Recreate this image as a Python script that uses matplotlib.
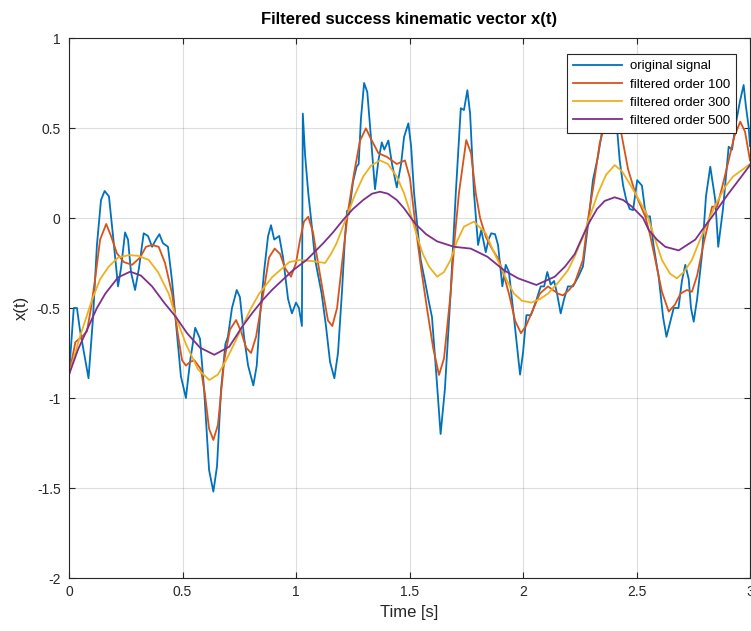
import matplotlib
matplotlib.use("Agg")
import matplotlib.pyplot as plt

# original signal
t_orig = [0.000, 0.021, 0.035, 0.048, 0.086, 0.106, 0.123, 0.141, 0.157, 0.176,
          0.194, 0.216, 0.229, 0.247, 0.260, 0.273, 0.291, 0.308, 0.329, 0.348,
          0.366, 0.383, 0.398, 0.414, 0.436, 0.454, 0.476, 0.493, 0.515, 0.533,
          0.556, 0.577, 0.595, 0.617, 0.636, 0.652, 0.670, 0.689, 0.700, 0.718,
          0.739, 0.753, 0.771, 0.789, 0.812, 0.827, 0.841, 0.860, 0.877, 0.890,
          0.904, 0.926, 0.943, 0.965, 0.982, 1.000, 1.013, 1.026, 1.030, 1.040,
          1.054, 1.070, 1.084, 1.113, 1.132, 1.150, 1.169, 1.185, 1.203, 1.216,
          1.225, 1.233, 1.251, 1.267, 1.276, 1.286, 1.300, 1.314, 1.330, 1.348,
          1.363, 1.378, 1.389, 1.407, 1.423, 1.444, 1.463, 1.476, 1.495, 1.507,
          1.520, 1.549, 1.568, 1.586, 1.599, 1.617, 1.637, 1.656, 1.681, 1.704,
          1.726, 1.740, 1.755, 1.767, 1.784, 1.802, 1.816, 1.836, 1.848, 1.860,
          1.877, 1.890, 1.909, 1.924, 1.938, 1.960, 1.987, 2.000, 2.015, 2.035,
          2.059, 2.078, 2.093, 2.107, 2.122, 2.137, 2.150, 2.166, 2.181, 2.198,
          2.220, 2.242, 2.264, 2.289, 2.308, 2.330, 2.357, 2.383, 2.401, 2.414,
          2.426, 2.441, 2.455, 2.470, 2.485, 2.503, 2.524, 2.537, 2.546, 2.559,
          2.576, 2.598, 2.617, 2.632, 2.648, 2.664, 2.685, 2.700, 2.715, 2.730,
          2.740, 2.752, 2.767, 2.789, 2.806, 2.825, 2.847, 2.860, 2.881, 2.906,
          2.921, 2.935, 2.956, 2.972, 2.982, 2.994, 3.000]
x_orig = [-0.87, -0.50, -0.50, -0.62, -0.89, -0.55, -0.15, 0.10, 0.15, 0.12,
          -0.10, -0.38, -0.28, -0.08, -0.12, -0.30, -0.40, -0.28, -0.085, -0.10,
          -0.16, -0.12, -0.09, -0.14, -0.16, -0.35, -0.65, -0.88, -1.00, -0.80,
          -0.61, -0.67, -0.95, -1.40, -1.52, -1.38, -0.95, -0.70, -0.66, -0.50,
          -0.40, -0.44, -0.66, -0.82, -0.93, -0.82, -0.55, -0.29, -0.10, -0.04,
          -0.12, -0.10, -0.22, -0.45, -0.53, -0.47, -0.50, -0.60, 0.58, 0.35,
          0.14, -0.05, -0.23, -0.42, -0.60, -0.80, -0.89, -0.75, -0.40, -0.10,
          0.04, 0.02, 0.20, 0.285, 0.30, 0.55, 0.75, 0.70, 0.45, 0.16,
          0.32, 0.42, 0.38, 0.43, 0.30, 0.17, 0.30, 0.45, 0.526, 0.40,
          0.14, -0.23, -0.35, -0.47, -0.55, -0.85, -1.20, -0.95, -0.42, 0.14,
          0.61, 0.60, 0.71, 0.58, 0.14, -0.15, -0.067, -0.19, -0.12, -0.085,
          -0.09, -0.15, -0.38, -0.26, -0.30, -0.55, -0.87, -0.75, -0.54, -0.54,
          -0.456, -0.38, -0.38, -0.30, -0.37, -0.35, -0.42, -0.53, -0.45, -0.38,
          -0.38, -0.33, -0.27, -0.01, 0.21, 0.34, 0.55, 0.72, 0.70, 0.50,
          0.32, 0.18, 0.10, 0.05, 0.044, 0.21, 0.18, 0.05, 0.007, 0.01,
          -0.16, -0.33, -0.55, -0.66, -0.58, -0.50, -0.50, -0.35, -0.26, -0.34,
          -0.50, -0.576, -0.45, -0.196, 0.12, 0.285, 0.10, -0.16, 0.05, 0.396,
          0.38, 0.507, 0.65, 0.739, 0.62, 0.507, 0.40]

# filtered order 100
t_f100 = [0.000, 0.028, 0.057, 0.079, 0.097, 0.116, 0.137, 0.164, 0.185, 0.211,
          0.242, 0.278, 0.313, 0.339, 0.366, 0.395, 0.423, 0.454, 0.480, 0.498,
          0.515, 0.533, 0.552, 0.581, 0.599, 0.617, 0.636, 0.656, 0.684, 0.709,
          0.736, 0.758, 0.780, 0.802, 0.824, 0.856, 0.881, 0.906, 0.930, 0.952,
          0.978, 1.000, 1.018, 1.035, 1.054, 1.075, 1.097, 1.120, 1.141, 1.160,
          1.181, 1.203, 1.230, 1.256, 1.282, 1.308, 1.330, 1.363, 1.400, 1.444,
          1.480, 1.502, 1.527, 1.551, 1.578, 1.604, 1.630, 1.652, 1.681, 1.700,
          1.718, 1.750, 1.771, 1.792, 1.811, 1.836, 1.863, 1.894, 1.916, 1.938,
          1.965, 1.991, 2.013, 2.037, 2.074, 2.110, 2.154, 2.176, 2.203, 2.228,
          2.264, 2.286, 2.313, 2.338, 2.361, 2.388, 2.410, 2.433, 2.463, 2.495,
          2.539, 2.559, 2.583, 2.612, 2.642, 2.670, 2.694, 2.722, 2.744, 2.767,
          2.796, 2.833, 2.855, 2.877, 2.906, 2.930, 2.957, 2.978, 3.000]
x_f100 = [-0.87, -0.69, -0.66, -0.63, -0.50, -0.33, -0.12, -0.033, -0.10, -0.196,
          -0.245, -0.26, -0.22, -0.16, -0.15, -0.16, -0.25, -0.42, -0.65, -0.79,
          -0.82, -0.80, -0.79, -0.84, -0.98, -1.17, -1.233, -1.15, -0.79, -0.62,
          -0.567, -0.63, -0.72, -0.75, -0.66, -0.42, -0.22, -0.17, -0.20, -0.28,
          -0.326, -0.25, -0.12, -0.02, 0.007, -0.08, -0.25, -0.42, -0.57, -0.60,
          -0.50, -0.25, 0.044, 0.25, 0.43, 0.498, 0.44, 0.36, 0.34, 0.30,
          0.32, 0.22, -0.048, -0.28, -0.51, -0.72, -0.872, -0.78, -0.42, -0.10,
          0.14, 0.433, 0.36, 0.137, 0.0, -0.104, -0.17, -0.233, -0.32, -0.42,
          -0.57, -0.64, -0.60, -0.53, -0.42, -0.38, -0.42, -0.43, -0.40, -0.36,
          -0.233, -0.01, 0.20, 0.415, 0.52, 0.55, 0.52, 0.47, 0.27, 0.137,
          0.007, -0.09, -0.233, -0.41, -0.52, -0.48, -0.42, -0.40, -0.41, -0.32,
          -0.14, 0.063, 0.063, 0.17, 0.32, 0.45, 0.535, 0.48, 0.32]

# filtered order 300
t_f300 = [0.000, 0.048, 0.101, 0.137, 0.175, 0.216, 0.263, 0.304, 0.351, 0.392,
          0.439, 0.471, 0.515, 0.568, 0.618, 0.656, 0.692, 0.727, 0.765, 0.802,
          0.838, 0.897, 0.930, 0.970, 1.018, 1.076, 1.128, 1.154, 1.179, 1.223,
          1.260, 1.296, 1.330, 1.370, 1.405, 1.444, 1.476, 1.498, 1.534, 1.559,
          1.586, 1.622, 1.652, 1.681, 1.709, 1.740, 1.784, 1.836, 1.868, 1.902,
          1.930, 1.960, 1.996, 2.037, 2.075, 2.110, 2.154, 2.198, 2.229, 2.264,
          2.295, 2.330, 2.366, 2.404, 2.436, 2.470, 2.502, 2.529, 2.546, 2.577,
          2.612, 2.648, 2.678, 2.709, 2.744, 2.780, 2.818, 2.855, 2.891, 2.925,
          2.965, 3.000]
x_f300 = [-0.87, -0.66, -0.456, -0.34, -0.27, -0.22, -0.206, -0.21, -0.233, -0.30,
          -0.42, -0.55, -0.70, -0.84, -0.90, -0.87, -0.79, -0.70, -0.60, -0.50,
          -0.42, -0.326, -0.29, -0.245, -0.233, -0.24, -0.25, -0.20, -0.14, 0.007,
          0.13, 0.23, 0.29, 0.32, 0.30, 0.23, 0.137, 0.05, -0.104, -0.20,
          -0.27, -0.326, -0.30, -0.233, -0.13, -0.048, -0.02, -0.085, -0.18, -0.27,
          -0.35, -0.42, -0.46, -0.47, -0.45, -0.42, -0.36, -0.29, -0.21, -0.104,
          0.01, 0.137, 0.24, 0.294, 0.26, 0.19, 0.12, 0.06, 0.02, -0.10,
          -0.233, -0.31, -0.335, -0.30, -0.233, -0.12, -0.01, 0.09, 0.174, 0.23,
          0.267, 0.30]

# filtered order 500
t_f500 = [0.000, 0.040, 0.087, 0.123, 0.160, 0.216, 0.270, 0.317, 0.366, 0.419,
          0.471, 0.520, 0.577, 0.640, 0.706, 0.765, 0.806, 0.853, 0.894, 0.941,
          0.987, 1.047, 1.120, 1.163, 1.208, 1.251, 1.296, 1.335, 1.370, 1.405,
          1.444, 1.476, 1.524, 1.573, 1.622, 1.696, 1.770, 1.843, 1.916, 1.978,
          2.059, 2.140, 2.185, 2.228, 2.260, 2.294, 2.326, 2.360, 2.404, 2.441,
          2.480, 2.529, 2.554, 2.590, 2.627, 2.686, 2.759, 2.793, 2.833, 2.868,
          2.906, 2.956, 3.000]
x_f500 = [-0.87, -0.73, -0.60, -0.50, -0.42, -0.33, -0.298, -0.32, -0.38, -0.47,
          -0.55, -0.64, -0.72, -0.76, -0.715, -0.60, -0.53, -0.456, -0.40, -0.344,
          -0.29, -0.233, -0.14, -0.08, -0.01, 0.05, 0.10, 0.135, 0.146, 0.135,
          0.10, 0.054, -0.03, -0.09, -0.13, -0.16, -0.17, -0.215, -0.29, -0.335,
          -0.372, -0.326, -0.27, -0.20, -0.11, -0.02, 0.05, 0.095, 0.115, 0.10,
          0.063, 0.0, -0.067, -0.12, -0.16, -0.18, -0.12, -0.06, 0.007, 0.07,
          0.137, 0.22, 0.294]

labels = ['original signal', 'filtered order 100', 'filtered order 300', 'filtered order 500']
colors = ['#0072BD', '#D95319', '#EDB120', '#7E2F8E']

x_ticks = [0, 0.5, 1, 1.5, 2, 2.5, 3]
x_ticklabels = ['0', '0.5', '1', '1.5', '2', '2.5', '3']
y_ticks = [-2, -1.5, -1, -0.5, 0, 0.5, 1]
y_ticklabels = ['-2', '-1.5', '-1', '-0.5', '0', '0.5', '1']

plt.rcParams['font.family'] = ['Liberation Sans', 'DejaVu Sans']
plt.rcParams['axes.unicode_minus'] = False

fig = plt.figure(figsize=(7.51, 6.31), dpi=100)
ax = fig.add_axes([69 / 751, 53 / 631, 681 / 751, 540 / 631])

series = [(t_orig, x_orig), (t_f100, x_f100), (t_f300, x_f300), (t_f500, x_f500)]
for (t, x), lab, c in zip(series, labels, colors):
    ax.plot(t, x, color=c, lw=1.3, label=lab, solid_joinstyle='round')

ax.set_xlim(0, 3)
ax.set_ylim(-2, 1)
ax.set_xticks(x_ticks)
ax.set_xticklabels(x_ticklabels)
ax.set_yticks(y_ticks)
ax.set_yticklabels(y_ticklabels)

ax.grid(True, color='#262626', alpha=0.15, lw=0.8)
ax.set_axisbelow(True)
ax.tick_params(direction='in', top=True, right=True, length=4, width=0.8,
               colors='#262626', labelsize=10)
ax.tick_params(axis='y', pad=6)
ax.tick_params(axis='x', pad=5)
for s in ax.spines.values():
    s.set_color('#262626')
    s.set_linewidth(0.8)

ax.set_title('Filtered success kinematic vector x(t)', fontsize=12, fontweight='bold', pad=10)
ax.set_xlabel('Time [s]', fontsize=12, color='#262626')
ax.set_ylabel('x(t)', fontsize=12, color='#262626', labelpad=6)

leg = ax.legend(loc='upper right', bbox_to_anchor=(0.979, 0.970), borderaxespad=0,
                fontsize=9.5, fancybox=False, framealpha=1, edgecolor='#262626',
                handlelength=3.7, labelspacing=0.45, borderpad=0.45, handletextpad=0.6)
leg.get_frame().set_linewidth(0.8)

fig.savefig('out.png', dpi=100)
